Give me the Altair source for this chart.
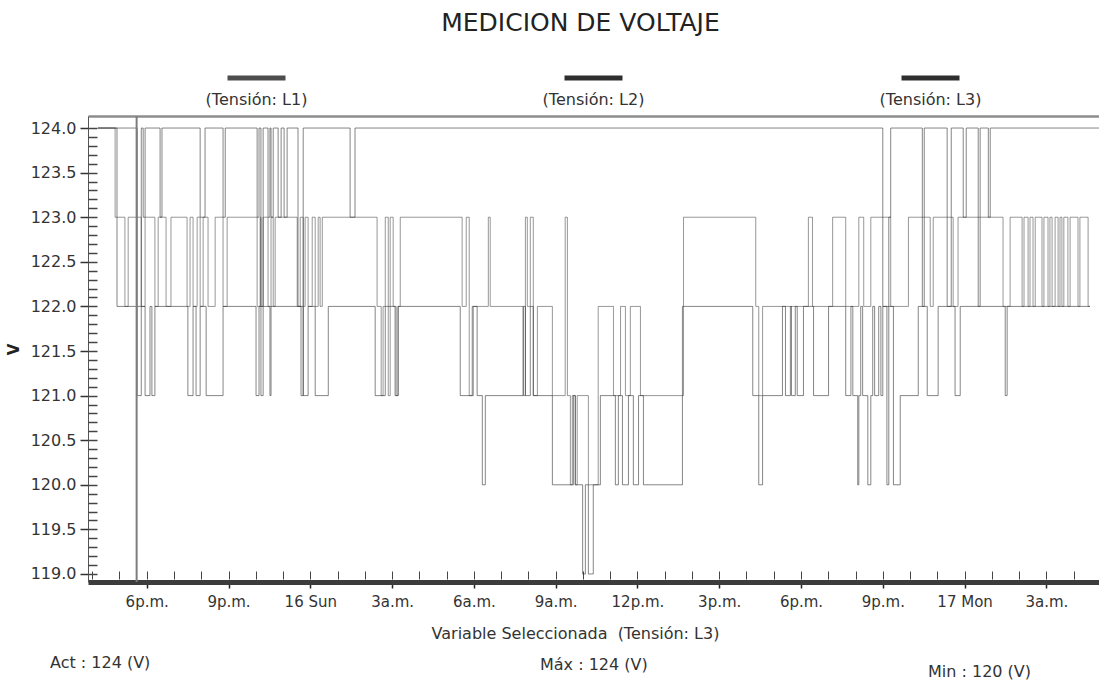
import json

import altair as alt
import pandas as pd

FONT = "DejaVu Sans"

SERIES = ["L1", "L2", "L3"]
SERIES_LABELS = ["(Tensión: L1)", "(Tensión: L2)", "(Tensión: L3)"]
SERIES_COLORS = ["#4d4d4d", "#2e2e2e", "#2e2e2e"]
SELECTED = "L3"

# (hours since 15 Jan 00:00, volts); each reading holds until the next one
L1_STEPS = [
    (16.21, 124), (16.84, 123), (17.20, 122), (17.32, 123), (17.80, 122), (17.94, 123),
    (18.30, 122), (18.42, 123), (18.71, 122), (18.89, 123), (19.48, 122), (19.59, 123),
    (19.70, 122), (19.85, 123), (19.96, 122), (20.07, 123), (20.25, 122), (20.51, 123),
    (20.80, 122), (20.95, 123), (22.05, 122), (22.16, 123), (22.19, 122), (22.27, 123),
    (22.45, 122), (22.56, 123), (22.64, 122), (22.71, 123), (23.52, 122), (23.63, 123),
    (23.74, 122), (23.81, 123), (23.92, 122), (24.07, 123), (24.18, 122), (24.29, 123),
    (24.36, 122), (24.44, 123), (26.45, 122), (26.60, 121), (26.67, 122), (26.75, 123),
    (26.86, 121), (26.93, 123), (27.04, 122), (27.15, 121), (27.22, 122), (27.30, 123),
    (29.57, 122), (29.72, 123), (29.83, 121), (29.98, 122), (30.53, 123), (30.60, 122),
    (31.81, 121), (31.89, 123), (31.96, 122), (32.07, 123), (32.18, 121), (32.33, 122),
    (32.88, 121), (33.35, 123), (33.43, 121), (33.54, 120), (33.61, 121), (33.72, 120),
    (33.79, 121), (34.20, 120), (34.56, 122), (35.12, 121), (35.38, 122), (35.56, 121),
    (35.74, 122), (36.11, 121), (37.69, 123), (40.34, 122), (40.45, 121), (40.59, 122),
    (42.27, 123), (42.42, 122), (43.16, 123), (43.64, 122), (44.12, 123), (44.30, 122),
    (44.56, 123), (45.29, 122), (45.94, 123), (46.74, 122), (46.85, 123), (47.58, 122),
    (47.76, 123), (49.41, 122), (49.67, 123), (50.11, 122), (50.18, 123), (50.33, 122),
    (50.40, 123), (50.51, 122), (50.59, 123), (50.84, 122), (50.91, 123), (51.06, 122),
    (51.13, 123), (51.21, 122), (51.32, 123), (51.43, 122), (51.50, 123), (51.57, 122),
    (51.64, 123), (51.79, 122), (51.87, 123), (52.16, 122), (52.23, 123), (52.53, 122),
    (52.60, 122),
]

L2_STEPS = [
    (16.21, 124), (16.91, 122), (17.94, 121), (18.12, 122), (18.19, 121), (18.30, 122),
    (19.51, 121), (19.70, 122), (19.81, 121), (19.96, 122), (20.18, 121), (20.80, 122),
    (22.01, 121), (22.12, 122), (22.19, 121), (22.27, 122), (22.52, 121), (22.56, 122),
    (23.74, 121), (23.92, 122), (24.18, 121), (24.66, 122), (26.38, 121), (26.75, 122),
    (27.11, 121), (27.22, 122), (29.50, 121), (29.94, 122), (30.12, 121), (30.31, 120),
    (30.42, 121), (31.81, 122), (31.89, 121), (32.07, 122), (32.18, 121), (32.88, 120),
    (33.65, 121), (33.72, 120), (33.99, 119), (34.09, 120), (34.20, 119), (34.38, 120),
    (34.64, 121), (35.19, 120), (35.30, 121), (35.45, 120), (35.67, 121), (35.85, 120),
    (36.04, 121), (36.22, 120), (37.65, 122), (40.23, 121), (40.45, 120), (40.59, 121),
    (41.32, 122), (41.43, 121), (41.61, 122), (41.65, 121), (41.79, 122), (41.86, 121),
    (42.09, 122), (42.46, 121), (43.01, 122), (43.64, 121), (43.83, 122), (43.90, 121),
    (44.08, 120), (44.12, 121), (44.19, 122), (44.26, 121), (44.45, 120), (44.56, 121),
    (44.63, 122), (44.70, 121), (44.85, 122), (44.93, 121), (45.00, 122), (45.39, 120),
    (45.64, 121), (46.30, 122), (46.63, 121), (47.03, 122), (47.65, 121), (47.84, 122),
    (49.49, 121), (49.56, 122), (52.60, 122),
]

L3_STEPS = [
    (16.21, 124), (17.65, 121), (17.80, 124), (17.87, 123), (17.94, 124), (18.49, 123),
    (18.56, 124), (19.96, 123), (20.14, 124), (20.80, 123), (20.88, 124), (22.05, 123),
    (22.12, 124), (22.19, 122), (22.27, 124), (22.45, 123), (22.52, 124), (22.56, 123),
    (22.64, 124), (22.82, 123), (22.93, 124), (23.04, 123), (23.15, 124), (23.55, 122),
    (23.66, 121), (23.74, 124), (25.46, 123), (25.64, 124), (45.00, 122), (45.15, 120),
    (45.22, 123), (45.29, 124), (46.45, 122), (46.52, 124), (47.36, 122), (47.51, 124),
    (47.95, 123), (48.06, 124), (48.50, 122), (48.57, 124), (48.87, 123), (48.94, 124),
    (52.93, 124),
]

CURSOR_HOUR = 17.63
X_RANGE_HOURS = (15.846, 52.93)
Y_RANGE = (118.91, 124.135)

MAJOR_TICK_HOURS = list(range(18, 52, 3))
TICK_LABELS = ["6p.m.", "9p.m.", "16 Sun", "3a.m.", "6a.m.", "9a.m.",
               "12p.m.", "3p.m.", "6p.m.", "9p.m.", "17 Mon", "3a.m."]
MINOR_TICK_HOURS = list(range(16, 53))
Y_TICKS = [round(119 + 0.5 * i, 1) for i in range(11)]
Y_MINOR_TICKS = [round(119 + 0.1 * i, 1) for i in range(51)]

W, H = 1011, 466
BASE = pd.Timestamp("2011-01-15")


def to_time(hours):
    return (BASE + pd.to_timedelta(hours, unit="h")).round("s")


def to_dt(hours):
    total = int(round(hours * 3600))
    day, rem = divmod(total, 86400)
    hh, rem = divmod(rem, 3600)
    mm, ss = divmod(rem, 60)
    return alt.DateTime(year=2011, month=1, date=15 + day, hours=hh, minutes=mm, seconds=ss)


rows = []
for name, steps in zip(SERIES, [L1_STEPS, L2_STEPS, L3_STEPS]):
    for hours, volts in steps:
        rows.append({"series": name, "time": to_time(hours), "volts": volts})
df = pd.DataFrame(rows)

x_scale = alt.Scale(domain=[to_dt(X_RANGE_HOURS[0]), to_dt(X_RANGE_HOURS[1])], nice=False)
y_scale = alt.Scale(domain=list(Y_RANGE), nice=False, zero=False)

tick_step_ms = (MAJOR_TICK_HOURS[1] - MAJOR_TICK_HOURS[0]) * 3600 * 1000
label_expr = (
    f"{json.dumps(TICK_LABELS, ensure_ascii=False)}"
    f"[round((datum.value - datetime(2011, 0, 15, {MAJOR_TICK_HOURS[0]})) / {tick_step_ms})]"
)

selected_label = SERIES_LABELS[SERIES.index(SELECTED)]

main_x_axis = alt.Axis(
    orient="bottom", values=[to_dt(h) for h in MAJOR_TICK_HOURS], labelExpr=label_expr,
    labelFont=FONT, labelFontSize=15, labelColor="#333", labelPadding=6, labelFlush=False,
    tickSize=6, tickColor="#222", tickWidth=1.5, domainColor="#3c3c3c", domainWidth=5,
    grid=False, title=f"Variable Seleccionada\u00a0\u00a0{selected_label}", titleFont=FONT,
    titleFontSize=16, titleFontWeight="normal", titleColor="#333",
    titleX=487, titleY=51, titleBaseline="middle",
)
main_y_axis = alt.Axis(
    orient="left", values=Y_TICKS, format=".1f", labelFont=FONT, labelFontSize=16,
    labelColor="#333", labelPadding=4, tickSize=8, tickColor="#333", tickWidth=1.5,
    domainColor="#555", domainWidth=1, grid=False, title="V", titleFont=FONT,
    titleFontSize=15, titleFontWeight="bold", titleColor="#222", titlePadding=9,
)

lines = alt.Chart(df).mark_line(interpolate="step-after", strokeWidth=1, strokeOpacity=0.58).encode(
    x=alt.X("time:T", scale=x_scale, axis=main_x_axis),
    y=alt.Y("volts:Q", scale=y_scale, axis=main_y_axis),
    color=alt.Color("series:N", scale=alt.Scale(domain=SERIES, range=SERIES_COLORS), legend=None),
)

cursor_df = pd.DataFrame({"time": [to_time(CURSOR_HOUR)], "volts": [Y_TICKS[-1]]})

# hourly and 0.1 V minor ticks drawn on the inner side of both axes
minor = alt.Chart(cursor_df).mark_point(opacity=0).encode(
    x=alt.X("time:T", scale=x_scale, title=None, axis=alt.Axis(
        orient="bottom", offset=-11, values=[to_dt(h) for h in MINOR_TICK_HOURS],
        labels=False, domain=False, grid=False, tickSize=8, tickColor="#444", tickWidth=1)),
    y=alt.Y("volts:Q", scale=y_scale, title=None, axis=alt.Axis(
        orient="left", offset=-9, values=Y_MINOR_TICKS, labels=False, domain=False,
        grid=False, tickSize=9, tickColor="#444", tickWidth=1.5)),
)

# cursor line, with the frame edge along the top
cursor = alt.Chart(cursor_df).mark_rule(color="#7d7d7d", strokeWidth=2).encode(
    x=alt.X("time:T", scale=x_scale, title=None, axis=alt.Axis(
        orient="top", labels=False, ticks=False, grid=False,
        domainColor="#8c8c8c", domainWidth=2.5)),
)

one_row = pd.DataFrame({"k": [0]})
legend_layers = []
for i, (label, color) in enumerate(zip(SERIES_LABELS, SERIES_COLORS)):
    cx = W * (2 * i + 1) / 6
    legend_layers.append(
        alt.Chart(one_row).mark_rule(color=color, strokeWidth=5).encode(
            x=alt.value(cx - 29), x2=alt.value(cx + 29), y=alt.value(-38))
    )
    legend_layers.append(
        alt.Chart(one_row).mark_text(text=label, font=FONT, fontSize=16, color="#333").encode(
            x=alt.value(cx), y=alt.value(-16))
    )

selected_volts = [v for _, v in dict(zip(SERIES, [L1_STEPS, L2_STEPS, L3_STEPS]))[SELECTED]]
stats = [
    (f"Act : {selected_volts[-1]} (V)", -38, 547),
    (f"Máx : {max(selected_volts)} (V)", 452, 549),
    (f"Min : {min(selected_volts)} (V)", 840, 556),
]
stat_layers = [
    alt.Chart(one_row).mark_text(text=text, font=FONT, fontSize=16, color="#333",
                                 align="left", baseline="middle").encode(
        x=alt.value(px), y=alt.value(py))
    for text, px, py in stats
]

chart = (
    alt.layer(lines, minor, cursor, *legend_layers, *stat_layers)
    .resolve_axis(x="independent", y="independent")
    .properties(
        width=W, height=H,
        padding={"left": 88, "top": 116, "right": 0, "bottom": 103},
        autosize=alt.AutoSizeParams(type="none"),
        title=alt.TitleParams(
            "MEDICION DE VOLTAJE", font=FONT, fontSize=25, fontWeight="normal",
            color="#222", anchor="middle", frame="group", offset=40, dx=-13),
    )
    .configure(font=FONT)
    .configure_view(stroke=None)
)

chart.save("out.html", embed_options={"renderer": "svg", "actions": False})
